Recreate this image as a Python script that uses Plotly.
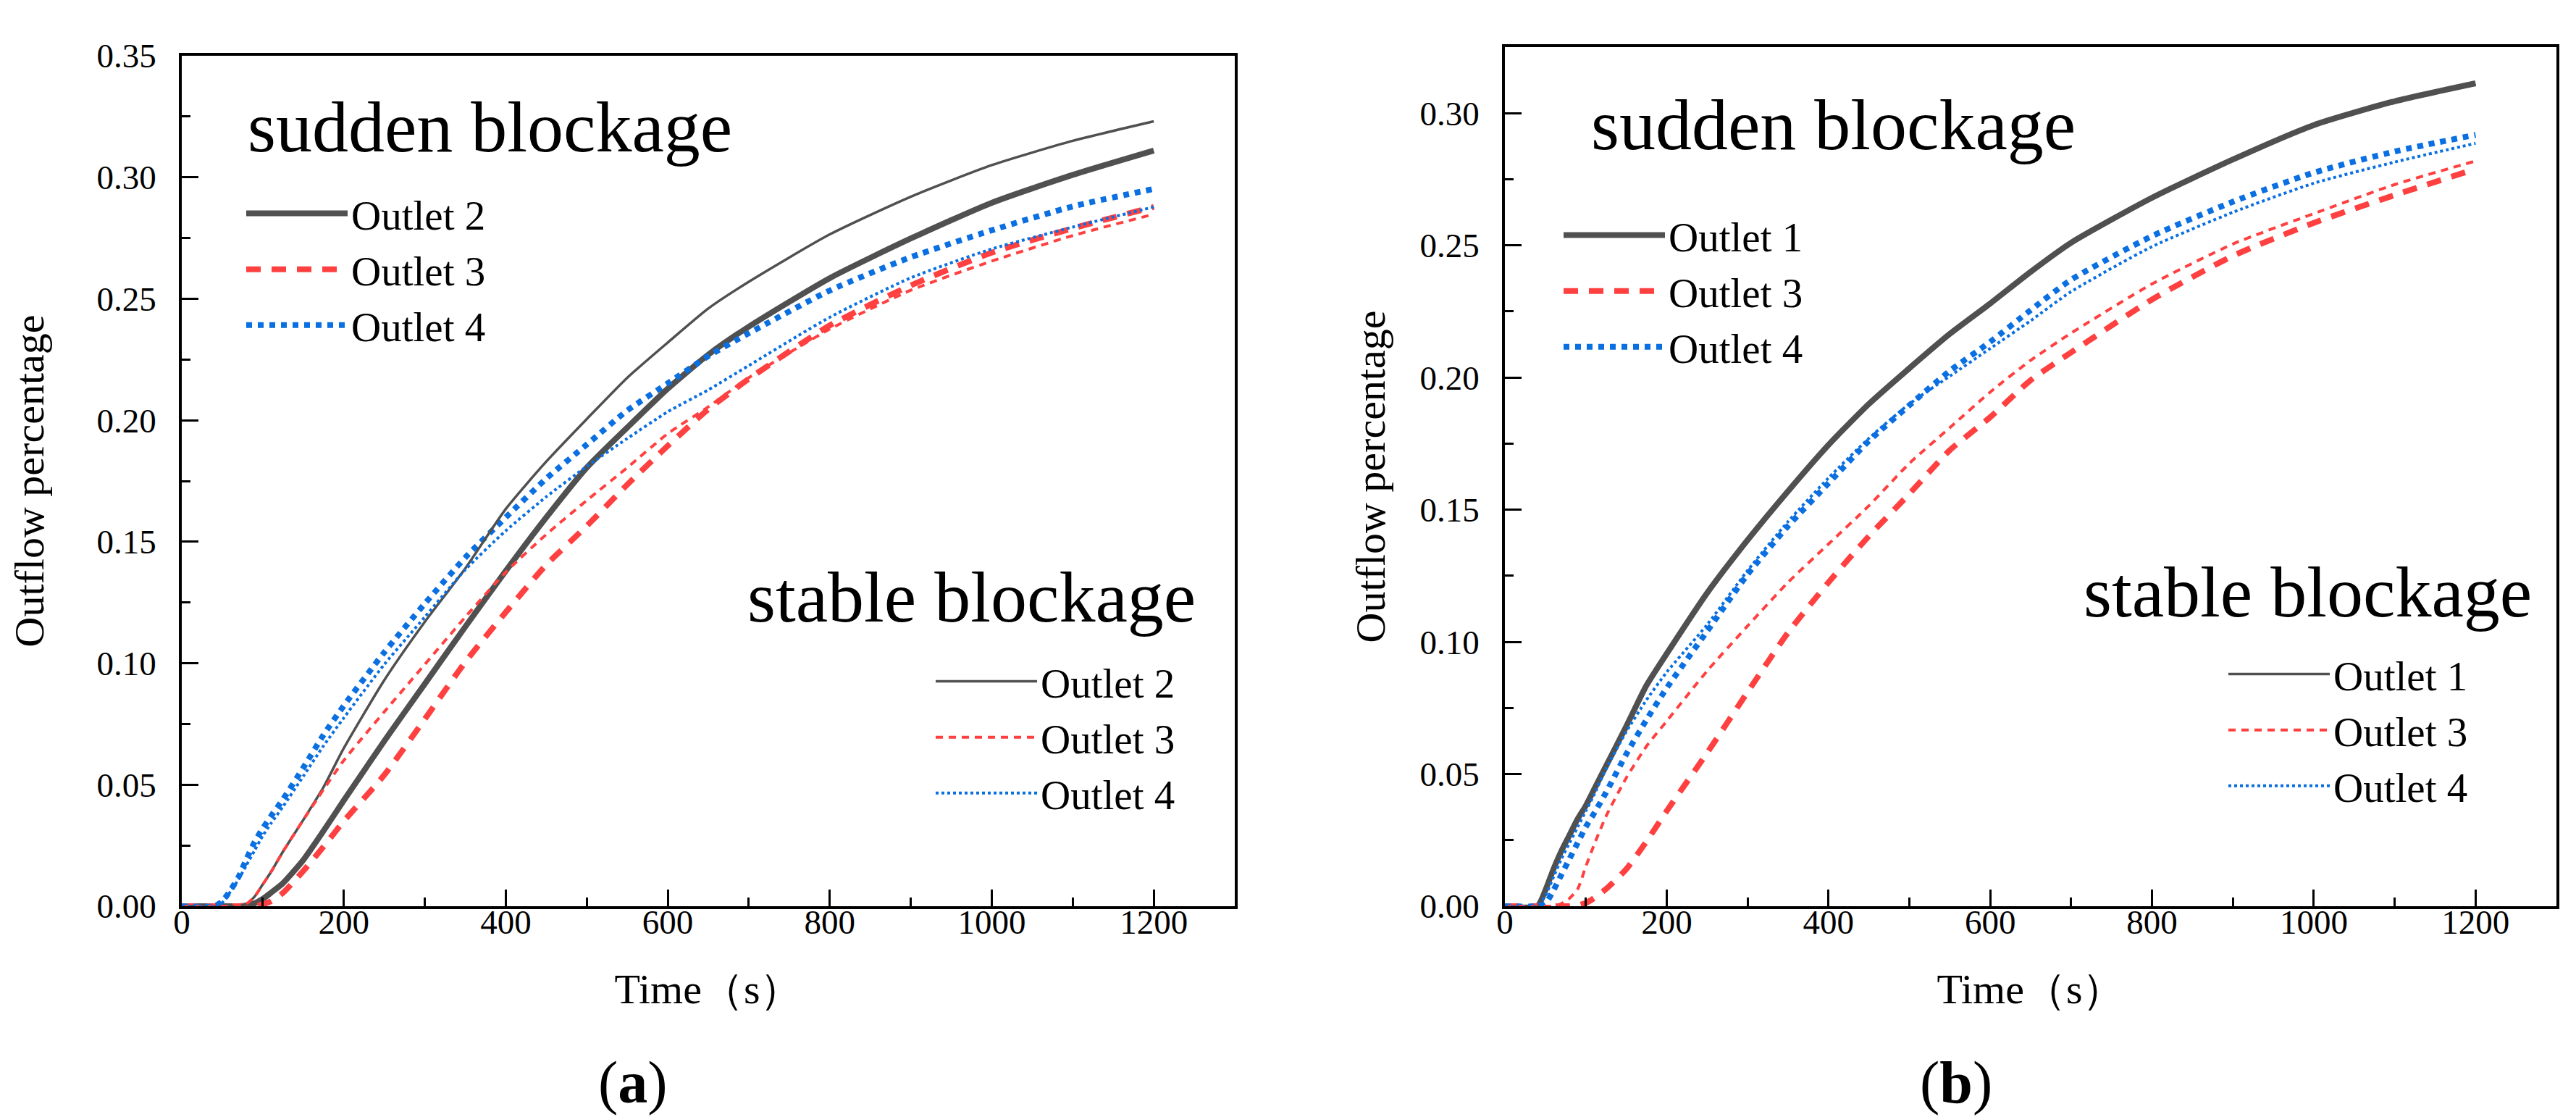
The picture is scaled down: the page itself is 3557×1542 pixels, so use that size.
import plotly.graph_objects as go

W, H = 3557, 1542

# ---------------- data ----------------
time_s = [0, 40, 50, 60, 70, 80, 90, 100, 110, 125, 150, 175, 200, 250, 300, 350,
          400, 450, 500, 550, 600, 650, 700, 800, 900, 1000, 1100, 1200]

# panel (a)
a_sudden_o2 = [0, 0, 0, 0, 0, 0.0003, 0.0012, 0.003, 0.0055, 0.0095, 0.019, 0.031, 0.0435, 0.068,
               0.0915, 0.115, 0.138, 0.160, 0.1805, 0.197, 0.213, 0.227, 0.2385, 0.2585, 0.2748,
               0.2895, 0.301, 0.311]
a_sudden_o3 = [0, 0, 0, 0, 0, 0, 0, 0.0008, 0.002, 0.0055, 0.0145, 0.0245, 0.035, 0.054, 0.077,
               0.1005, 0.121, 0.1405, 0.1565, 0.1735, 0.1895, 0.2045, 0.217, 0.239, 0.2555,
               0.269, 0.279, 0.2878]
a_sudden_o4 = [0, 0, 0.002, 0.0065, 0.012, 0.0195, 0.0265, 0.032, 0.037, 0.044, 0.057, 0.0705,
               0.0825, 0.1045, 0.1245, 0.1435, 0.160, 0.176, 0.190, 0.204, 0.2152, 0.2264,
               0.2358, 0.2534, 0.2671, 0.2782, 0.288, 0.2952]
a_stable_o2 = [0, 0, 0, 0, 0, 0.001, 0.004, 0.009, 0.014, 0.0225, 0.0355, 0.049, 0.065, 0.093,
               0.117, 0.139, 0.1635, 0.183, 0.2005, 0.2175, 0.232, 0.246, 0.257, 0.2765, 0.292,
               0.305, 0.315, 0.323]
a_stable_o3 = [0, 0, 0, 0, 0, 0.001, 0.004, 0.009, 0.014, 0.0225, 0.0355, 0.048, 0.060, 0.080,
               0.0995, 0.119, 0.1375, 0.153, 0.167, 0.1805, 0.1945, 0.2055, 0.2175, 0.2375,
               0.2535, 0.2655, 0.276, 0.2848]
a_stable_o4 = [0, 0, 0.0015, 0.006, 0.011, 0.017, 0.023, 0.029, 0.034, 0.041, 0.0535, 0.066,
               0.0775, 0.0995, 0.119, 0.1385, 0.1545, 0.1685, 0.181, 0.1925, 0.2035, 0.2125,
               0.2225, 0.2424, 0.2586, 0.2705, 0.2795, 0.2878]

# panel (b)
b_sudden_o1 = [0, 0, 0.006, 0.014, 0.021, 0.027, 0.033, 0.038, 0.044, 0.053, 0.068, 0.0835,
               0.0955, 0.1185, 0.1385, 0.157, 0.1745, 0.190, 0.2035, 0.2165, 0.228, 0.240,
               0.251, 0.268, 0.2825, 0.2955, 0.3045, 0.3113]
b_sudden_o3 = [0, 0, 0, 0, 0, 0, 0.0003, 0.0012, 0.003, 0.0065, 0.014, 0.0245, 0.036, 0.058,
               0.081, 0.1035, 0.1225, 0.140, 0.156, 0.1725, 0.185, 0.199, 0.2095, 0.2295,
               0.246, 0.2585, 0.269, 0.2789]
b_sudden_o4 = [0, 0, 0.001, 0.006, 0.012, 0.018, 0.024, 0.030, 0.035, 0.043, 0.0575, 0.0705,
               0.0825, 0.104, 0.1255, 0.1438, 0.160, 0.176, 0.1895, 0.2025, 0.2135, 0.2255,
               0.237, 0.2535, 0.2665, 0.2775, 0.2855, 0.2918]
b_stable_o1 = [0, 0, 0.006, 0.013, 0.020, 0.027, 0.033, 0.039, 0.045, 0.054, 0.068, 0.083,
               0.095, 0.118, 0.138, 0.1565, 0.174, 0.1895, 0.203, 0.216, 0.2275, 0.2395,
               0.2505, 0.2675, 0.282, 0.295, 0.304, 0.311]
b_stable_o3 = [0, 0, 0, 0, 0.001, 0.003, 0.0065, 0.015, 0.023, 0.034, 0.0485, 0.0605, 0.070,
               0.089, 0.106, 0.1225, 0.137, 0.1515, 0.1675, 0.181, 0.1945, 0.2065, 0.2168,
               0.2354, 0.2505, 0.262, 0.273, 0.2819]
b_stable_o4 = [0, 0, 0.004, 0.011, 0.018, 0.024, 0.030, 0.036, 0.042, 0.052, 0.066, 0.078,
               0.0885, 0.1065, 0.127, 0.1455, 0.162, 0.177, 0.190, 0.2005, 0.211, 0.2215,
               0.2325, 0.2495, 0.2625, 0.2735, 0.2815, 0.2886]

x_ticks = [0, 200, 400, 600, 800, 1000, 1200]
y_ticks_a = [0.00, 0.05, 0.10, 0.15, 0.20, 0.25, 0.30, 0.35]
y_ticks_b = [0.00, 0.05, 0.10, 0.15, 0.20, 0.25, 0.30]

# ---------------- style ----------------
GRAY, RED, BLUE = "#505050", "#FF4040", "#0A6FE0"
FONT = "Liberation Serif, Times New Roman, serif"

STY = {
    "sudden_gray": dict(color=GRAY, width=8, dash="solid"),
    "sudden_red": dict(color=RED, width=8, dash="20px,15px"),
    "sudden_blue": dict(color=BLUE, width=8, dash="8px,8px"),
    "stable_gray": dict(color=GRAY, width=3.5, dash="solid"),
    "stable_red": dict(color=RED, width=4, dash="10px,8px"),
    "stable_blue": dict(color=BLUE, width=4, dash="4px,4px"),
}


def px_x(p):
    return p / W


def px_y(p):
    return 1 - p / H


fig = go.Figure()


def add(x, y, name, sty, xa, ya, leg):
    fig.add_trace(go.Scatter(
        x=x, y=y, name=name, mode="lines",
        line=dict(color=sty["color"], width=sty["width"], dash=sty["dash"],
                  shape="spline", smoothing=0.6),
        xaxis=xa, yaxis=ya, legend=leg, showlegend=True))


# panel (a)
add(time_s, a_sudden_o2, "Outlet 2", STY["sudden_gray"], "x", "y", "legend")
add(time_s, a_sudden_o3, "Outlet 3", STY["sudden_red"], "x", "y", "legend")
add(time_s, a_sudden_o4, "Outlet 4", STY["sudden_blue"], "x", "y", "legend")
add(time_s, a_stable_o2, "Outlet 2", STY["stable_gray"], "x", "y", "legend2")
add(time_s, a_stable_o3, "Outlet 3", STY["stable_red"], "x", "y", "legend2")
add(time_s, a_stable_o4, "Outlet 4", STY["stable_blue"], "x", "y", "legend2")
# panel (b)
add(time_s, b_sudden_o1, "Outlet 1", STY["sudden_gray"], "x2", "y2", "legend3")
add(time_s, b_sudden_o3, "Outlet 3", STY["sudden_red"], "x2", "y2", "legend3")
add(time_s, b_sudden_o4, "Outlet 4", STY["sudden_blue"], "x2", "y2", "legend3")
add(time_s, b_stable_o1, "Outlet 1", STY["stable_gray"], "x2", "y2", "legend4")
add(time_s, b_stable_o3, "Outlet 3", STY["stable_red"], "x2", "y2", "legend4")
add(time_s, b_stable_o4, "Outlet 4", STY["stable_blue"], "x2", "y2", "legend4")

tickfont = dict(family=FONT, size=47, color="black")
titlefont = dict(family=FONT, size=58, color="black")


def xaxis_cfg(domain):
    return dict(domain=domain, range=[0, 1300], tickmode="array", tickvals=x_ticks,
                ticktext=[str(v) for v in x_ticks],
                ticks="inside", ticklen=23, tickwidth=3, tickcolor="black",
                minor=dict(ticks="inside", ticklen=12, tickwidth=3, tickcolor="black",
                           dtick=100, tick0=0, showgrid=False),
                showline=True, linecolor="black", linewidth=3.5, mirror=True,
                showgrid=False, zeroline=False, tickfont=tickfont, automargin=False,
                ticklabelstandoff=-22,
                title=dict(text="Time（s）", font=titlefont, standoff=47))


def yaxis_cfg(domain, rng, ticks, anchor, standoff):
    return dict(domain=domain, range=rng, anchor=anchor, tickmode="array", tickvals=ticks,
                ticktext=["%.2f" % v for v in ticks],
                ticks="inside", ticklen=23, tickwidth=3, tickcolor="black",
                minor=dict(ticks="inside", ticklen=12, tickwidth=3, tickcolor="black",
                           dtick=0.025, tick0=0, showgrid=False),
                showline=True, linecolor="black", linewidth=3.5, mirror=True,
                showgrid=False, zeroline=False, tickfont=tickfont, automargin=False,
                ticklabelstandoff=22,
                title=dict(text="Outflow percentage", font=titlefont, standoff=standoff))


leg_common = dict(font=dict(family=FONT, size=57, color="black"), bgcolor="rgba(0,0,0,0)",
                  borderwidth=0, itemwidth=140, xanchor="left", yanchor="top",
                  xref="paper", yref="paper", tracegroupgap=0)

fig.update_layout(
    width=W, height=H, paper_bgcolor="white", plot_bgcolor="white",
    margin=dict(l=0, r=0, t=0, b=0, autoexpand=False),
    xaxis=xaxis_cfg([px_x(243), px_x(1697)]),
    yaxis=yaxis_cfg([px_y(1243), px_y(69)], [0, 0.35], y_ticks_a, "x", 60),
    xaxis2={**xaxis_cfg([px_x(2070), px_x(3522)]), "anchor": "y2"},
    yaxis2=yaxis_cfg([px_y(1243), px_y(57)], [0, 0.325], y_ticks_b, "x2", 30),
    legend=dict(x=px_x(327), y=px_y(243), **leg_common),
    legend2=dict(x=px_x(1279), y=px_y(889), **leg_common),
    legend3=dict(x=px_x(2146), y=px_y(273), **leg_common),
    legend4=dict(x=px_x(3064), y=px_y(879), **leg_common),
    showlegend=True,
)

hdr_font = dict(family=FONT, size=100, color="black")
fig.add_annotation(text="sudden blockage", x=px_x(332), y=px_y(167), xref="paper", yref="paper",
                   xanchor="left", yanchor="middle", showarrow=False, font=hdr_font)
fig.add_annotation(text="stable blockage", x=px_x(1645), y=px_y(816), xref="paper", yref="paper",
                   xanchor="right", yanchor="middle", showarrow=False, font=hdr_font)
fig.add_annotation(text="sudden blockage", x=px_x(2187), y=px_y(165), xref="paper", yref="paper",
                   xanchor="left", yanchor="middle", showarrow=False, font=hdr_font)
fig.add_annotation(text="stable blockage", x=px_x(3490), y=px_y(809), xref="paper", yref="paper",
                   xanchor="right", yanchor="middle", showarrow=False, font=hdr_font)

lab_font = dict(family=FONT, size=82, color="black")
fig.add_annotation(text="(<b>a</b>)", x=px_x(866), y=px_y(1486), xref="paper", yref="paper",
                   xanchor="center", yanchor="middle", showarrow=False, font=lab_font)
fig.add_annotation(text="(<b>b</b>)", x=px_x(2693), y=px_y(1486), xref="paper", yref="paper",
                   xanchor="center", yanchor="middle", showarrow=False, font=lab_font)

fig.write_html("out.html")
